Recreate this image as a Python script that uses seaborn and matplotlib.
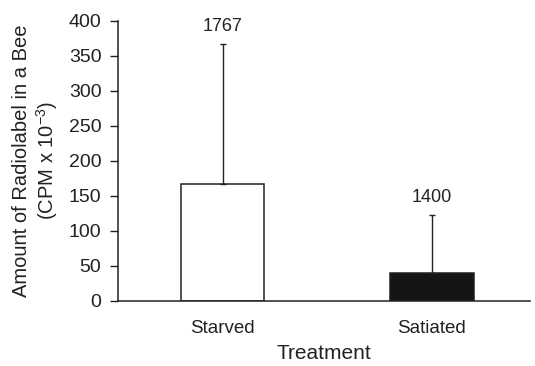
import numpy as np
import pandas as pd
import seaborn as sns
import matplotlib
matplotlib.use("Agg")
import matplotlib.pyplot as plt

# values
TREATMENTS = ["Starved", "Satiated"]
MEANS = [167, 40]
ERR_UPPER = [200, 83]
N_LABELS = ["1767", "1400"]
BAR_COLORS = ["white", "#151515"]
Y_TICKS = [0, 50, 100, 150, 200, 250, 300, 350, 400]

sns.set_style("ticks")
plt.rcParams["font.family"] = ["Liberation Sans", "DejaVu Sans"]
plt.rcParams["mathtext.fontset"] = "custom"
plt.rcParams["mathtext.rm"] = "Liberation Sans"
plt.rcParams["mathtext.it"] = "Liberation Sans"

df = pd.DataFrame({"Treatment": TREATMENTS, "Mean": MEANS})

fig = plt.figure(figsize=(5.35, 3.66), dpi=100)
ax = fig.add_axes([0.2206, 0.1776, 0.7701, 0.7658])

sns.barplot(
    data=df, x="Treatment", y="Mean",
    hue="Treatment", palette=BAR_COLORS, legend=False,
    edgecolor="#222222", linewidth=1.1, width=0.40,
    errorbar=None, ax=ax
)

# upper-only error bars
ax.errorbar(
    np.arange(len(TREATMENTS)), MEANS,
    yerr=[np.zeros(len(MEANS)), ERR_UPPER],
    fmt="none", ecolor="#222222", elinewidth=1.0,
    capsize=2.5, capthick=1.0
)

# sample counts above error bars
for i, lab in enumerate(N_LABELS):
    ax.text(i, MEANS[i] + ERR_UPPER[i] + 13, lab,
            ha="center", va="bottom", fontsize=13, color="#222222")

ax.set_xlim(-0.5, 1.47)
ax.set_ylim(0, 400)
ax.set_yticks(Y_TICKS)
ax.tick_params(axis="y", length=6, width=1, labelsize=14, colors="#222222", pad=6)
ax.tick_params(axis="x", length=0, labelsize=13.5, colors="#222222", pad=14)

sns.despine(ax=ax)
for s in ["left", "bottom"]:
    ax.spines[s].set_linewidth(1.1)
    ax.spines[s].set_color("#222222")

ax.set_xlabel("Treatment", fontsize=15, color="#222222", labelpad=5)
ax.set_ylabel("Amount of Radiolabel in a Bee\n(CPM x 10$^{-3}$)",
              fontsize=14.5, color="#222222", labelpad=6, linespacing=1.15)

fig.savefig("out.png", dpi=100)
